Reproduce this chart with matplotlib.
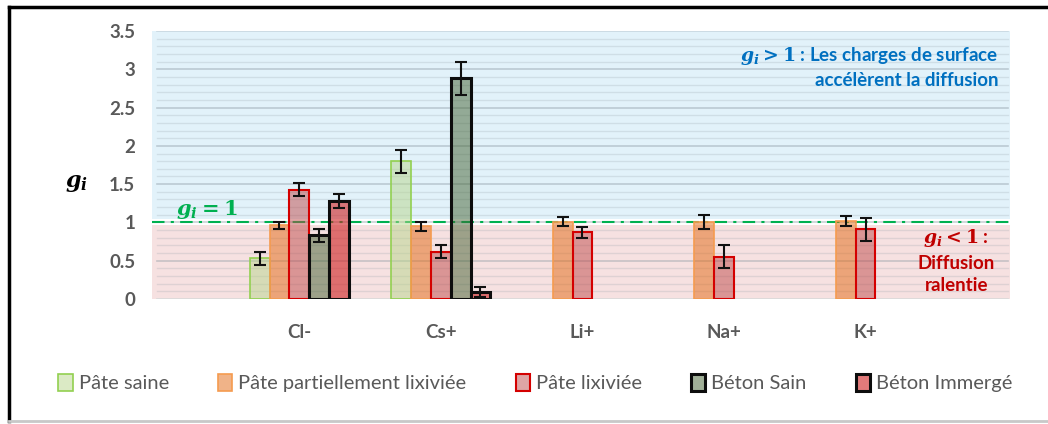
import numpy as np
import matplotlib.pyplot as plt
from matplotlib.lines import Line2D

plt.rcParams['font.family'] = ['Lato', 'DejaVu Sans']
plt.rcParams['mathtext.fontset'] = 'custom'
plt.rcParams['mathtext.it'] = 'DejaVu Serif:italic:bold'
plt.rcParams['mathtext.rm'] = 'DejaVu Serif:bold'
plt.rcParams['mathtext.bf'] = 'DejaVu Serif:bold'

# ions et facteurs g_i (NaN = pas de mesure)
ions = ['Cl-', 'Cs+', 'Li+', 'Na+', 'K+']
series = ['Pâte saine', 'Pâte partiellement lixiviée', 'Pâte lixiviée',
          'Béton Sain', 'Béton Immergé']

pate_saine = [0.53, 1.80, np.nan, np.nan, np.nan]
pate_saine_err = [0.08, 0.15, 0, 0, 0]
pate_part = [0.96, 0.95, 1.01, 1.01, 1.02]
pate_part_err = [0.05, 0.06, 0.06, 0.09, 0.07]
pate_lix = [1.43, 0.62, 0.87, 0.55, 0.91]
pate_lix_err = [0.08, 0.08, 0.07, 0.15, 0.15]
beton_sain = [0.83, 2.88, np.nan, np.nan, np.nan]
beton_sain_err = [0.08, 0.22, 0, 0, 0]
beton_imm = [1.28, 0.09, np.nan, np.nan, np.nan]
beton_imm_err = [0.09, 0.07, 0, 0, 0]

valeurs = [pate_saine, pate_part, pate_lix, beton_sain, beton_imm]
erreurs = [pate_saine_err, pate_part_err, pate_lix_err, beton_sain_err, beton_imm_err]

faces = [(0.72, 0.84, 0.55, 0.5), (0.89, 0.41, 0.07, 0.5), (0.75, 0.29, 0.29, 0.5),
         (0.27, 0.39, 0.2, 0.5), (0.81, 0.13, 0.13, 0.6)]
bords = ['#92d050', '#f59b4f', '#d40000', '#0d0d0d', '#0d0d0d']
epaisseurs = [1.2, 1.2, 1.5, 2.2, 2.2]

fig = plt.figure(figsize=(10.48, 4.24), dpi=100)
ax = fig.add_axes([152 / 1048, 125 / 424, 858 / 1048, 268 / 424])

# zones de fond
ax.axhspan(0, 0.97, color='#f6e1e1', zorder=0, lw=0)
ax.axhspan(1.05, 3.5, color='#e2f2fa', zorder=0, lw=0)
for yv in np.arange(0.1, 3.5, 0.1):
    major = abs(yv * 2 - round(yv * 2)) < 1e-6
    ax.axhline(yv, color='#8c9aa3', alpha=0.45 if major else 0.22,
               lw=1.2 if major else 1.0, zorder=0.5, xmin=0.006, xmax=0.998)
ax.axhline(3.5, color='#8c9aa3', alpha=0.3, lw=1.2, zorder=0.5, xmin=0.006, xmax=0.998)
ax.axhline(0, color='#d9d9d9', lw=1.2, zorder=0.5, xmin=0.006, xmax=0.998)

x = np.arange(len(ions))
w = 0.14
for k in range(len(series)):
    pos = x + (k - 2) * w
    ax.bar(pos, valeurs[k], w, color=faces[k], edgecolor=bords[k],
           linewidth=epaisseurs[k], zorder=2, label=series[k])
    ok = ~np.isnan(np.array(valeurs[k]))
    ax.errorbar(pos[ok], np.array(valeurs[k])[ok], yerr=np.array(erreurs[k])[ok],
                fmt='none', ecolor='#111111', elinewidth=1.5, capsize=4,
                capthick=1.5, zorder=3)

# ligne g_i = 1
ax.axhline(1.0, color='#00b050', lw=1.5, ls=(0, (6, 3, 1.5, 3)), zorder=1.5)
ax.text(-0.87, 1.02, '$g_i = 1$', color='#00b050', fontsize=15, zorder=4,
        va='bottom', ha='left')

ax.text(4.94, 3.03, '$g_i > 1$ : Les charges de surface\naccélèrent la diffusion',
        color='#0070c0', fontsize=13.5, fontweight='bold', ha='right', va='center',
        linespacing=1.4)
ax.text(4.64, 0.5, '$g_i < 1$ :\nDiffusion\nralentie', color='#c00000',
        fontsize=13.5, fontweight='bold', ha='center', va='center', linespacing=1.4)

ax.set_xlim(-1.04, 5.02)
ax.set_ylim(0, 3.5)
ax.set_yticks(np.arange(0, 3.51, 0.5))
ax.set_yticklabels(['0', '0.5', '1', '1.5', '2', '2.5', '3', '3.5'])
ax.set_xticks(x)
ax.set_xticklabels(ions)
ax.tick_params(axis='y', length=0, pad=12, labelsize=13.5, labelcolor='#595959')
ax.tick_params(axis='x', length=0, pad=18, labelsize=13.5, labelcolor='#595959')
for lab in ax.get_yticklabels() + ax.get_xticklabels():
    lab.set_fontweight('bold')
for s in ax.spines.values():
    s.set_visible(False)

fig.text(76 / 1048, 1 - 183 / 424, '$g_i$', fontsize=16, ha='center', va='center')

h, l = ax.get_legend_handles_labels()
fig.legend(h, l, loc='center', bbox_to_anchor=(0.511, 1 - 383 / 424), ncol=5,
           frameon=False, fontsize=14.5, labelcolor='#595959', handlelength=0.7,
           handleheight=0.9, handletextpad=0.3, columnspacing=2.45)

# cadre
fig.add_artist(Line2D([9 / 1048, 1], [1 - 7 / 424] * 2, color='black', lw=2.5))
fig.add_artist(Line2D([9 / 1048] * 2, [1 - 421 / 424, 1 - 7 / 424], color='black', lw=2.5))
fig.add_artist(Line2D([9 / 1048, 1], [1 - 421 / 424] * 2, color='#c8c8c8', lw=2))

fig.savefig('out.png', dpi=100)
